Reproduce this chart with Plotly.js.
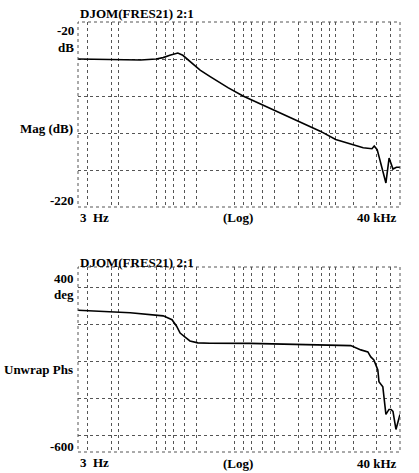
<!DOCTYPE html>
<html><head><meta charset="utf-8">
<script src="https://cdn.plot.ly/plotly-3.0.1.min.js"></script>
<style>html,body{margin:0;padding:0;background:#fff;}#chart{width:419px;height:473px;}</style>
</head><body><div id="chart"></div>
<script>
// ---- data ----
const magFreq = [3, 5.7, 12, 19, 30, 37, 45, 57, 66, 75, 90, 110, 148, 250, 390, 1070, 2000, 3800, 6000, 9200, 13500, 17500, 18700, 20400, 23000, 26400, 29000, 32500, 36000, 40000];
const magDb   = [-60, -60.5, -61, -61, -60, -58.5, -56, -53.5, -56, -60, -66, -72, -79, -91, -100, -117, -127, -138, -147, -152, -156, -157, -154, -158, -176, -194, -167, -179, -177, -177];

const phsFreq = [3, 14, 37, 48, 55, 61, 72, 81.5, 103, 147, 477, 2820, 9350, 12600, 15500, 16900, 18500, 19600, 20800, 21500, 23000, 24100, 26400, 28900, 30700, 32500, 35500, 38800, 40000];
const phsDeg  = [176, 163, 146, 125, 90, 53, 28, 10, 0, -2, -3, -8, -15, -38, -49, -76, -92, -119, -146, -210, -226, -237, -387, -360, -360, -371, -468, -414, -387];

const gridFreqs = [4, 8, 10, 30, 40, 50, 70, 100, 300, 400, 500, 700, 1000, 2000, 3000, 4000, 5000, 6000, 10000, 20000, 30000];
const magGrid = [-60, -100, -140, -180];
const phsGrid = [300, 100, -100, -300, -500];

const titleText = 'DJOM(FRES21) 2:1';
const magLabels = {top: '-20', unit: 'dB', name: 'Mag (dB)', bottom: '-220'};
const phsLabels = {top: '400', unit: 'deg', name: 'Unwrap Phs', bottom: '-600'};
const xLabels = {left: '3  Hz', mid: '(Log)', right: '40 kHz'};

// ---- layout helpers (pixel -> paper) ----
const L = 78, R = 400, T = 22, B = 452;
const px = x => (x - L) / (R - L);
const py = y => (B - y) / (B - T);
const FONT = {family: 'Liberation Serif, Times New Roman, serif', size: 13, color: '#000'};
const ann = (text, x, y, xa) => ({text: '<b>' + text + '</b>', x: px(x), y: py(y), xref: 'paper', yref: 'paper',
  xanchor: xa, yanchor: 'middle', showarrow: false, font: FONT});

const gridStyle = {showgrid: true, gridcolor: '#555', griddash: 'dot', gridwidth: 1,
  zeroline: false, showline: false, ticks: '', showticklabels: false};

const xr = [Math.log10(3), Math.log10(40000)];

const traces = [
  {x: magFreq, y: magDb, xaxis: 'x', yaxis: 'y', mode: 'lines', line: {color: '#000', width: 1.6}, hoverinfo: 'skip'},
  {x: phsFreq, y: phsDeg, xaxis: 'x2', yaxis: 'y2', mode: 'lines', line: {color: '#000', width: 1.6}, hoverinfo: 'skip'}
];

const frame = (xr_, yr_) => ({type: 'rect', xref: xr_ + ' domain', yref: yr_ + ' domain', x0: 0, x1: 1, y0: 0, y1: 1,
  line: {color: '#555', width: 1, dash: 'dot'}, fillcolor: 'rgba(0,0,0,0)'});

const layout = {
  width: 419, height: 473,
  margin: {l: L, r: 419 - R, t: T, b: 473 - B},
  paper_bgcolor: '#fff', plot_bgcolor: '#fff',
  showlegend: false,
  xaxis: Object.assign({type: 'log', range: xr, tickvals: gridFreqs, anchor: 'y', domain: [0, 1]}, gridStyle),
  yaxis: Object.assign({range: [-220, -20], tickvals: magGrid, anchor: 'x', domain: [py(207), 1]}, gridStyle),
  xaxis2: Object.assign({type: 'log', range: xr, tickvals: gridFreqs, anchor: 'y2', domain: [0, 1]}, gridStyle),
  yaxis2: Object.assign({range: [-590, 410], tickvals: phsGrid, anchor: 'x2', domain: [0, py(267)]}, gridStyle),
  shapes: [frame('x', 'y'), frame('x2', 'y2')],
  annotations: [
    ann(titleText, 78, 13, 'left'),
    ann(magLabels.top, 76, 30, 'right'),
    ann(magLabels.unit, 76, 47, 'right'),
    ann(magLabels.name, 75, 128, 'right'),
    ann(magLabels.bottom, 76, 200, 'right'),
    ann(xLabels.left, 78, 217, 'left'),
    ann(xLabels.mid, 238, 218, 'center'),
    ann(xLabels.right, 399, 218, 'right'),
    ann(titleText, 78, 262, 'left'),
    ann(phsLabels.top, 76, 278, 'right'),
    ann(phsLabels.unit, 76, 294, 'right'),
    ann(phsLabels.name, 75, 369, 'right'),
    ann(phsLabels.bottom, 76, 446, 'right'),
    ann(xLabels.left, 78, 462, 'left'),
    ann(xLabels.mid, 238, 463, 'center'),
    ann(xLabels.right, 399, 463, 'right')
  ]
};

Plotly.newPlot('chart', traces, layout, {displayModeBar: false, staticPlot: true});
</script>
</body></html>
